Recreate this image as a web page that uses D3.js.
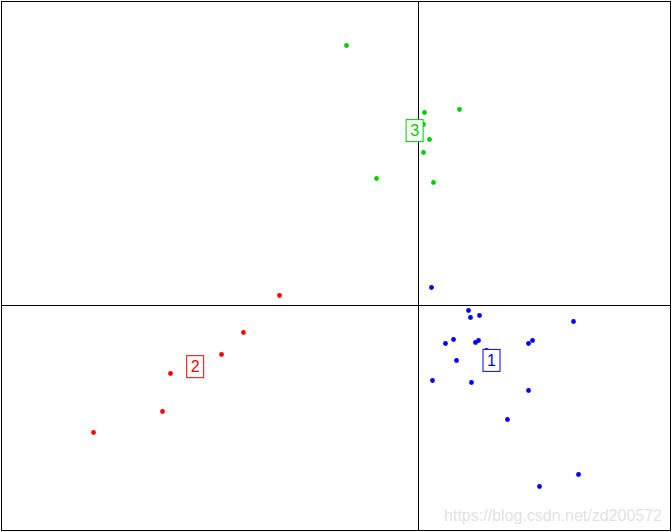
<!DOCTYPE html>
<html lang="en">
<head>
    <meta charset="UTF-8">
    <title>Cluster plot</title>
    <script src="https://d3js.org/d3.v7.min.js"></script>
    <style>
        body {
            margin: 0;
            background-color: white;
            font-family: "Liberation Sans", Arial, sans-serif;
        }

        .cluster-label {
            font-size: 16px;
        }

        .watermark {
            font-size: 16px;
            fill: #e2e2e2;
        }
    </style>
</head>
<body>
    <div id="chart"></div>
    <script>
        // Cluster ids and colours
        const clusters = [1, 2, 3];
        const clusterColors = ["#0000ff", "#ff0000", "#00cd00"];

        // Point coordinates (first two components) per cluster
        const cluster1X = [0.13, 0.50, 0.61, 0.52, 1.55, 0.35, 0.27, 0.60, 0.57, 1.14, 1.10, 0.68, 0.38, 0.14, 0.53, 1.10, 0.89, 1.60, 1.21];
        const cluster1Y = [0.18, -0.05, -0.10, -0.12, -0.16, -0.34, -0.38, -0.35, -0.37, -0.35, -0.38, -0.45, -0.55, -0.75, -0.77, -0.85, -1.14, -1.69, -1.81];

        const cluster2X = [-1.39, -1.75, -1.97, -2.48, -2.56, -3.25];
        const cluster2Y = [0.10, -0.27, -0.49, -0.68, -1.06, -1.27];

        const cluster3X = [-0.72, 0.41, 0.06, 0.05, 0.11, 0.05, -0.42, 0.15];
        const cluster3Y = [2.60, 1.96, 1.93, 1.81, 1.66, 1.53, 1.27, 1.23];

        // Plot extent
        const xDomain = [-4.17, 2.52];
        const yDomain = [3.04, -2.25];

        const width = 672;
        const height = 532;

        const svg = d3.select("#chart")
            .append("svg")
            .attr("width", width)
            .attr("height", height);

        const xScale = d3.scaleLinear().domain(xDomain).range([1.5, 670.5]);
        const yScale = d3.scaleLinear().domain(yDomain).range([1.5, 530.5]);

        const groups = [
            { id: clusters[0], color: clusterColors[0], xs: cluster1X, ys: cluster1Y },
            { id: clusters[1], color: clusterColors[1], xs: cluster2X, ys: cluster2Y },
            { id: clusters[2], color: clusterColors[2], xs: cluster3X, ys: cluster3Y }
        ].map(g => ({
            ...g,
            points: g.xs.map((x, i) => ({ x: x, y: g.ys[i] }))
        }));

        // Zero lines
        svg.append("line")
            .attr("x1", xScale(0)).attr("x2", xScale(0))
            .attr("y1", yScale.range()[0]).attr("y2", yScale.range()[1])
            .attr("stroke", "black");

        svg.append("line")
            .attr("x1", xScale.range()[0]).attr("x2", xScale.range()[1])
            .attr("y1", yScale(0)).attr("y2", yScale(0))
            .attr("stroke", "black");

        // Points
        groups.forEach(g => {
            svg.append("g")
                .selectAll("circle")
                .data(g.points)
                .enter()
                .append("circle")
                .attr("cx", d => xScale(d.x))
                .attr("cy", d => yScale(d.y))
                .attr("r", 2.4)
                .attr("fill", g.color);
        });

        // Cluster labels at cluster centre
        groups.forEach(g => {
            const cx = xScale(d3.mean(g.xs));
            const cy = yScale(d3.mean(g.ys));
            const lab = svg.append("g").attr("transform", `translate(${cx},${cy})`);
            lab.append("rect")
                .attr("x", -8.5)
                .attr("y", -11)
                .attr("width", 17)
                .attr("height", 22)
                .attr("fill", "white")
                .attr("stroke", g.color);
            lab.append("text")
                .attr("class", "cluster-label")
                .attr("text-anchor", "middle")
                .attr("dy", "0.36em")
                .attr("fill", g.color)
                .text(g.id);
        });

        // Frame
        svg.append("rect")
            .attr("x", 1.5)
            .attr("y", 1.5)
            .attr("width", 669)
            .attr("height", 529)
            .attr("fill", "none")
            .attr("stroke", "black");

        svg.append("text")
            .attr("class", "watermark")
            .attr("x", 662)
            .attr("y", 521)
            .attr("text-anchor", "end")
            .text("https://blog.csdn.net/zd200572");
    </script>
</body>
</html>
